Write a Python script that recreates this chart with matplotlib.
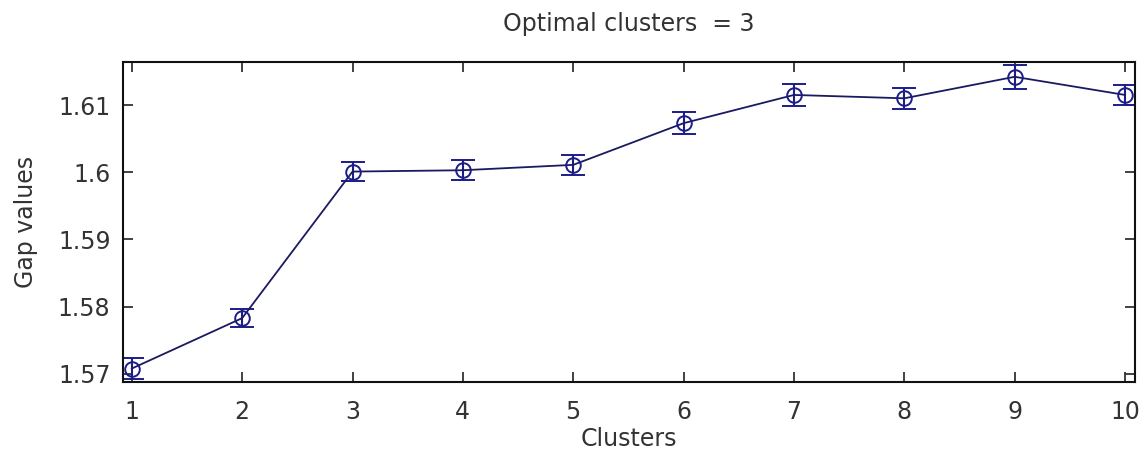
import numpy as np
import matplotlib
matplotlib.use("Agg")
import matplotlib.pyplot as plt

# gap statistic per number of clusters
clusters = [1, 2, 3, 4, 5, 6, 7, 8, 9, 10]
gap_values = [1.5708, 1.5783, 1.6001, 1.6003, 1.6011, 1.6073, 1.6115, 1.6110, 1.6142, 1.6115]
gap_err = [0.0015, 0.0013, 0.0014, 0.0015, 0.0015, 0.0016, 0.0017, 0.0016, 0.0018, 0.0015]
yticks = [1.57, 1.58, 1.59, 1.60, 1.61]
ytick_labels = ["1.57", "1.58", "1.59", "1.6", "1.61"]
optimal_k = 3

plt.rcParams["font.family"] = ["DejaVu Sans"]

color = "#1c1c8a"
text_color = "#333333"
fig = plt.figure(figsize=(11.47, 4.61), dpi=100)
ax = fig.add_axes([0.1072, 0.1714, 0.8823, 0.6941])

ax.errorbar(clusters, gap_values, yerr=gap_err, color="#1a1a60", linewidth=1.3,
            marker="o", markersize=10.5, markerfacecolor="none",
            markeredgecolor=color, markeredgewidth=1.4,
            ecolor=color, elinewidth=1.5, capsize=8.5, capthick=1.8)

ax.set_xlim(0.92, 10.09)
ax.set_ylim(1.5688, 1.6164)
ax.set_xticks(clusters)
ax.set_yticks(yticks)
ax.set_yticklabels(ytick_labels)

ax.tick_params(direction="in", length=7, width=1.3, labelsize=17,
               top=True, right=True, pad=9, colors=text_color)
ax.tick_params(axis="x", pad=13)
for s in ax.spines.values():
    s.set_linewidth(1.5)
    s.set_color("#111111")

ax.set_xlabel("Clusters", fontsize=17, color=text_color, labelpad=2)
ax.set_ylabel("Gap values", fontsize=17, color=text_color, labelpad=14)
ax.set_title(f"Optimal clusters  = {optimal_k}", fontsize=17, color=text_color, pad=22)

fig.savefig("out.png", dpi=100, facecolor="white")
